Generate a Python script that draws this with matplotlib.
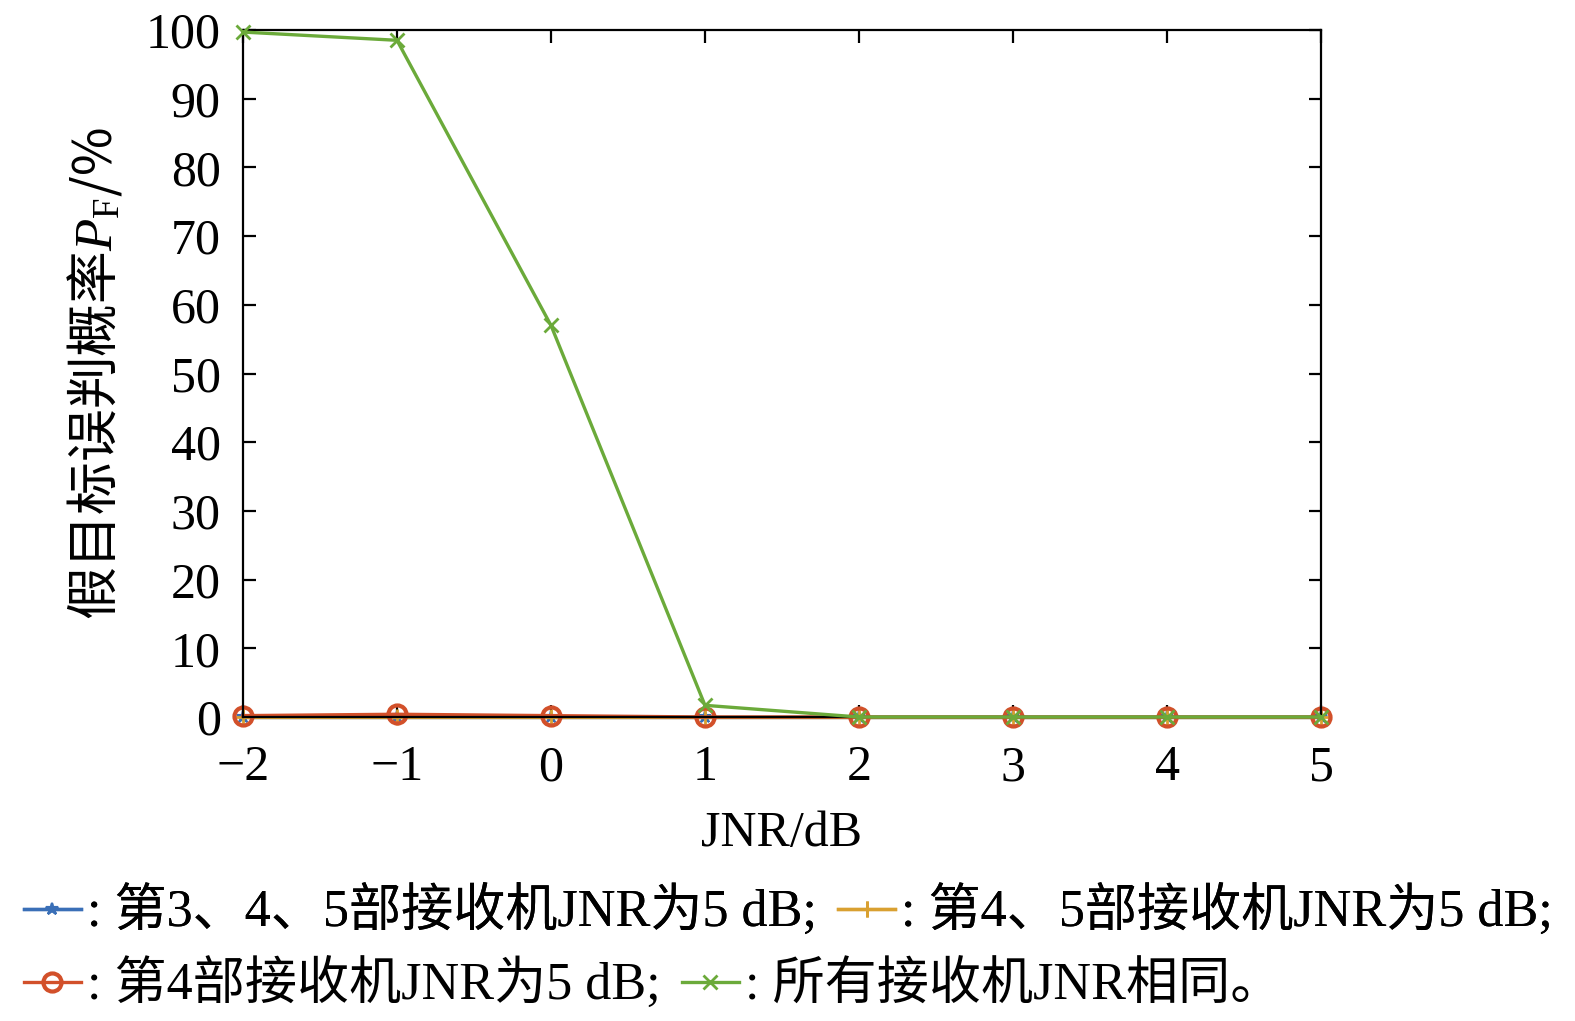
import matplotlib
matplotlib.use("Agg")
import matplotlib.pyplot as plt

plt.rcParams['font.family'] = ['Liberation Serif', 'Noto Sans CJK SC']
plt.rcParams['mathtext.fontset'] = 'custom'
plt.rcParams['mathtext.rm'] = 'Liberation Serif'
plt.rcParams['mathtext.it'] = 'Liberation Serif:italic'
plt.rcParams['axes.unicode_minus'] = True

jnr = [-2, -1, 0, 1, 2, 3, 4, 5]
pf_345 = [0, 0, 0, 0, 0, 0, 0, 0]
pf_45 = [0, 0, 0, 0, 0, 0, 0, 0]
pf_4 = [0.2, 0.4, 0.2, 0, 0, 0, 0, 0]
pf_all = [99.7, 98.5, 57.0, 1.7, 0, 0, 0, 0]

labels = [": 第3、4、5部接收机JNR为5 dB;", ": 第4、5部接收机JNR为5 dB;",
          ": 第4部接收机JNR为5 dB;", ": 所有接收机JNR相同。"]
xticks = [-2, -1, 0, 1, 2, 3, 4, 5]
yticks = [0, 10, 20, 30, 40, 50, 60, 70, 80, 90, 100]

c_blue = '#3A6FB7'
c_yel = '#D9A030'
c_red = '#D2502A'
c_grn = '#6BAA3A'

fig = plt.figure(figsize=(15.75, 10.21), dpi=100)
ax = fig.add_axes([243/1575, 1-717/1021, (1321-243)/1575, (717-30)/1021])

lw = 2.4
l1, = ax.plot(jnr, pf_345, color=c_blue, lw=lw, marker='*', ms=9, mew=1.5, clip_on=False, zorder=3)
l2, = ax.plot(jnr, pf_45, color=c_yel, lw=lw, marker='+', ms=11, mew=2, clip_on=False, zorder=3)
l3, = ax.plot(jnr, pf_4, color=c_red, lw=lw, marker='o', ms=13, mew=3, mfc='none', clip_on=False, zorder=3.5)
l4, = ax.plot(jnr, pf_all, color=c_grn, lw=lw, marker='x', ms=10, mew=2, clip_on=False, zorder=4)

ax.set_xlim(-2, 5)
ax.set_ylim(0, 100)
ax.set_xticks(xticks)
ax.set_yticks(yticks)
for s in ax.spines.values():
    s.set_linewidth(1.6)
    s.set_zorder(3.8)
ax.tick_params(direction='in', length=9, width=1.6, top=True, right=True,
               labelsize=36)
ax.tick_params(axis='x', pad=20)
ax.tick_params(axis='y', pad=16)

ax.set_xlabel("JNR/dB", fontsize=36, labelpad=14)
ax.set_ylabel("假目标误判概率$P_{\\mathrm{F}}$/%", fontsize=38,
              family='Noto Sans CJK SC', labelpad=16)

common = dict(ncol=2, loc='center left', frameon=False, fontsize=37.5,
              handlelength=1.1, handletextpad=0.12, columnspacing=0.4,
              borderaxespad=0, borderpad=0)
leg1 = fig.legend([l1, l2], labels[:2], bbox_to_anchor=(0.015, 1-912/1021), **common)
leg2 = fig.legend([l3, l4], labels[2:], bbox_to_anchor=(0.015, 1-985/1021), **common)
fig.add_artist(leg1)

fig.savefig("out.png", dpi=100)
